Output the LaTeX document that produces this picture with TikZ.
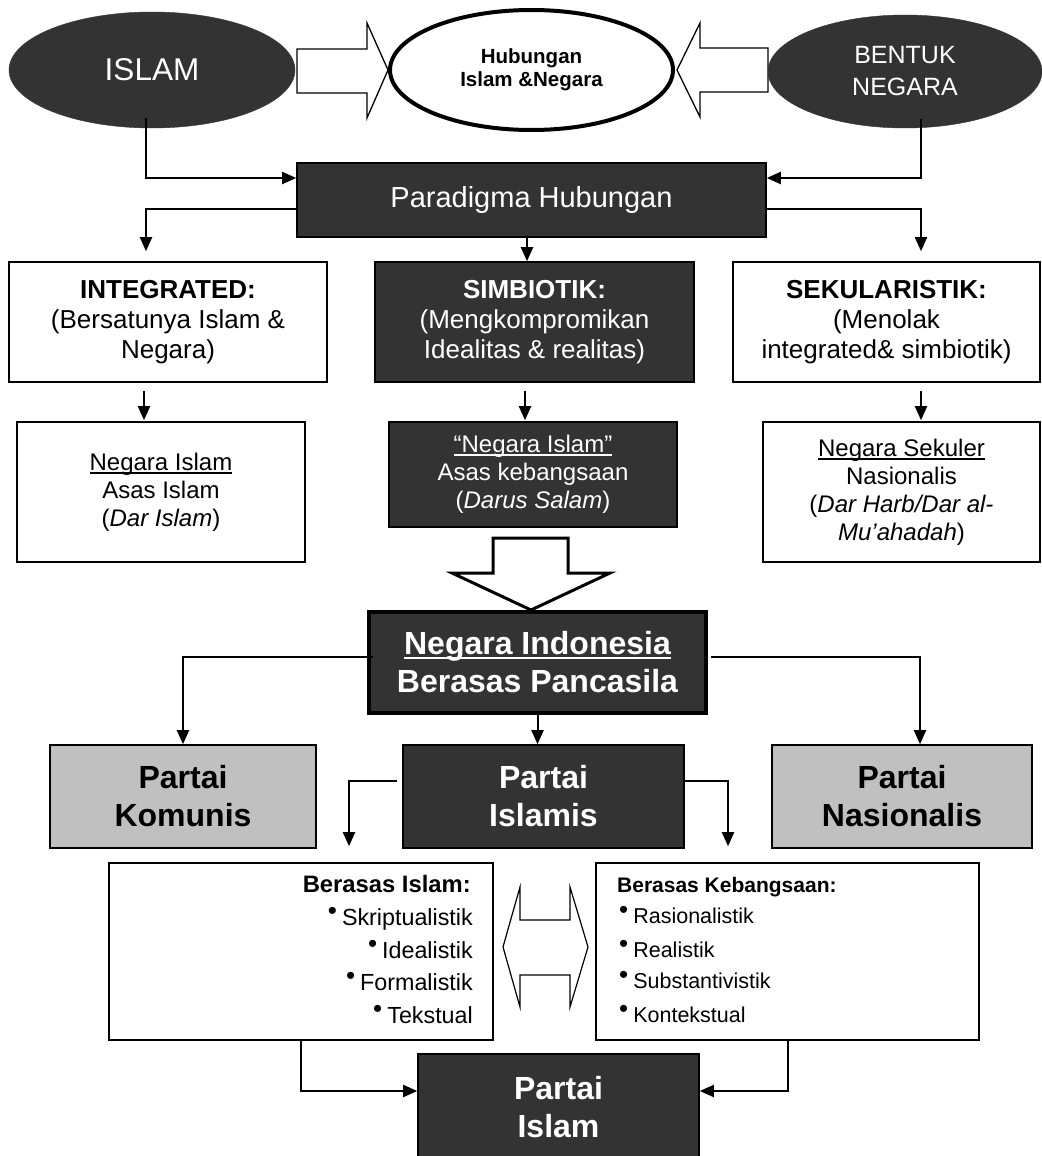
\documentclass[tikz,border=0pt]{standalone}
\usepackage{fontspec}
\setmainfont{Liberation Sans}
\usetikzlibrary{shapes.geometric,arrows.meta,calc}
\definecolor{dk}{HTML}{333333}
\definecolor{gr}{HTML}{C0C0C0}
\newcommand\myul[1]{\setbox0\hbox{#1}\rlap{\rule[-0.14em]{\wd0}{0.07em}}\box0}
\newcommand\bul{\raisebox{0.22em}{\fontsize{26}{26}\selectfont •}\hspace{5pt}}
\begin{document}
\begin{tikzpicture}[x=1pt,y=-1pt,
  box/.style={draw=black,line width=1.6pt,rectangle,inner sep=0pt,align=center},
  darkbox/.style={box,fill=dk,text=white},
  whitebox/.style={box,fill=white,text=black},
  graybox/.style={box,fill=gr,text=black},
  ell/.style={ellipse,inner sep=0pt,align=center},
  conn/.style={draw=black,line width=2pt,-{Triangle[length=14pt,width=12pt]}},
  hollow/.style={draw=black,fill=white,line width=1.3pt,line join=miter},
  txtA/.style={font=\fontsize{26}{30}\selectfont},
  txtB/.style={font=\fontsize{24}{28}\selectfont},
  txtP/.style={font=\fontsize{32}{38}\selectfont\bfseries},
  lst/.style={inner sep=0pt,font=\fontsize{23.3}{23}\selectfont},
  lstk/.style={inner sep=0pt,font=\fontsize{21.5}{21}\selectfont}
]
\useasboundingbox (0,0) rectangle (1041,1156);
\fill[white] (0,0) rectangle (1041,1156);

% block arrows (drawn first, under the ellipses)
\draw[hollow] (297,49) -- (367,49) -- (367,23) -- (388,70) -- (367,118) -- (367,93) -- (297,93) -- cycle;
\draw[hollow] (768,48) -- (700,48) -- (700,23) -- (677,70) -- (700,117) -- (700,92) -- (768,92) -- cycle;

% ellipses
\node[ell,fill=dk,draw=dk,text=white,minimum width=286pt,minimum height=116pt,
      font=\fontsize{31.5}{36}\selectfont] (islam) at (152,70) {ISLAM};
\node[ell,fill=white,draw=black,line width=4pt,minimum width=283pt,minimum height=120pt,
      font=\fontsize{20.5}{23}\selectfont\bfseries] (hub) at (531.5,70) {Hubungan\\Islam \&Negara};
\node[ell,fill=dk,draw=dk,text=white,minimum width=274pt,minimum height=113pt,
      font=\fontsize{25}{32}\selectfont] (bentuk) at (905,71.5) {BENTUK\\NEGARA};

% paradigma
\node[darkbox,minimum width=469pt,minimum height=74pt,font=\fontsize{29}{32}\selectfont]
  (para) at (531.5,200) {\raisebox{-3pt}{Paradigma Hubungan}};

% three paradigms
\node[whitebox,txtA,minimum width=318pt,minimum height=120pt] (integ) at (168,322)
  {\textbf{INTEGRATED:}\\(Bersatunya Islam \&\\Negara)};
\node[darkbox,txtA,minimum width=319pt,minimum height=120pt] (simb) at (534.5,322)
  {\textbf{SIMBIOTIK:}\\(Mengkompromikan\\Idealitas \& realitas)};
\node[whitebox,txtA,minimum width=307pt,minimum height=120pt] (sek) at (886.5,322)
  {\textbf{SEKULARISTIK:}\\(Menolak\\integrated\& simbiotik)};

% state forms
\node[whitebox,txtB,minimum width=288pt,minimum height=140pt] (nislam) at (161,492)
  {\myul{Negara Islam}\\Asas Islam\\(\textit{Dar Islam})};
\node[darkbox,txtB,minimum width=288pt,minimum height=105pt] (nisl2) at (533,474.5)
  {\myul{“Negara Islam”}\\Asas kebangsaan\\(\textit{Darus Salam})};
\node[whitebox,txtB,minimum width=277pt,minimum height=140pt] (nsek) at (901.5,492)
  {\myul{Negara Sekuler}\\Nasionalis\\(\textit{Dar Harb/Dar al-}\\\textit{Mu’ahadah})};

% big hollow down arrow
\draw[hollow,line width=3pt] (493,538) -- (568,538) -- (568,573) -- (610,573) -- (531,610) -- (452,573) -- (493,573) -- cycle;

% Indonesia
\node[darkbox,line width=4pt,minimum width=337pt,minimum height=101pt,
      font=\fontsize{32}{38}\selectfont\bfseries] (indo) at (537.5,662.5)
  {\myul{Negara Indonesia}\\Berasas Pancasila};

% parties
\node[graybox,txtP,minimum width=266pt,minimum height=103pt] (komunis) at (183,796.5) {Partai\\Komunis};
\node[darkbox,txtP,minimum width=281pt,minimum height=103pt] (islamis) at (543.5,796.5) {Partai\\Islamis};
\node[graybox,txtP,minimum width=260pt,minimum height=103pt] (nasional) at (902,796.5) {Partai\\Nasionalis};

% basis boxes
\node[whitebox,minimum width=384pt,minimum height=177pt] (bisl) at (301,951.5) {};
\node[whitebox,minimum width=383pt,minimum height=177pt] (bkeb) at (787.5,951.5) {};

\node[lst,anchor=base east,font=\fontsize{23.8}{23}\selectfont\bfseries] (bist) at (471,892) {Berasas Islam:};
\node[lst,anchor=base east] (bis1) at (473,925) {\bul Skriptualistik};
\node[lst,anchor=base east] (bis2) at (473,958) {\bul Idealistik};
\node[lst,anchor=base east] (bis3) at (473,990) {\bul Formalistik};
\node[lst,anchor=base east] (bis4) at (473,1023) {\bul Tekstual};

\node[lstk,anchor=base west,font=\fontsize{21}{21}\selectfont\bfseries] (bkt) at (617,892) {Berasas Kebangsaan:};
\node[lstk,anchor=base west] (bk1) at (619,923) {\bul Rasionalistik};
\node[lstk,anchor=base west] (bk2) at (619,957) {\bul Realistik};
\node[lstk,anchor=base west] (bk3) at (619,988) {\bul Substantivistik};
\node[lstk,anchor=base west] (bk4) at (619,1022) {\bul Kontekstual};

% double hollow arrow
\draw[hollow,line width=1.2pt] (503,947) -- (520,887) -- (520,920) -- (570,920) -- (570,887) -- (588,947)
  -- (570,1007) -- (570,975) -- (520,975) -- (520,1007) -- cycle;

% Partai Islam
\node[darkbox,txtP,minimum width=281pt,minimum height=106pt] (pislam) at (558.5,1107) {Partai\\Islam};

% connectors
\draw[conn] ($(islam.south)+(-6,-10)$) |- ($(para.west)+(0,-22)$);
\draw[conn] ($(bentuk.south)+(16,-9)$) |- ($(para.east)+(0,-22)$);
\draw[conn,shorten >=10pt] ($(para.west)+(0,9)$) -| ($(integ.north)+(-22,0)$);
\draw[conn,shorten >=10pt] ($(para.east)+(0,9)$) -| ($(sek.north)+(34.5,0)$);
\coordinate (pm) at ($(para.south)+(-4.5,0)$);
\draw[conn] (pm) -- (pm |- simb.north);

\draw[conn,shorten <=8pt,shorten >=1pt] ($(integ.south)+(-24,0)$) -- ($(nislam.north)+(-17,0)$);
\draw[conn,shorten <=8pt,shorten >=1pt] ($(simb.south)+(-9.5,0)$) -- ($(nisl2.north)+(-8,0)$);
\draw[conn,shorten <=8pt,shorten >=1pt] ($(sek.south)+(34.5,0)$) -- ($(nsek.north)+(19.5,0)$);

\draw[conn] ($(indo.west)+(6,-5.5)$) -| (komunis.north);
\draw[conn] ($(indo.east)+(3,-5.5)$) -| ($(nasional.north)+(18,0)$);
\draw[conn] (indo.south) -- (indo.south |- islamis.north);

\draw[conn] ($(islamis.west)+(-5,-15.5)$) -| ($(bisl.north)+(48,-16)$);
\draw[conn] ($(islamis.east)+(0,-15.5)$) -| ($(bkeb.north)+(-59.5,-16)$);

\draw[conn] (bisl.south) |- ($(pislam.west)+(0,-16)$);
\draw[conn] ($(bkeb.south)+(0.5,0)$) |- ($(pislam.east)+(0,-16)$);
\end{tikzpicture}
\end{document}
